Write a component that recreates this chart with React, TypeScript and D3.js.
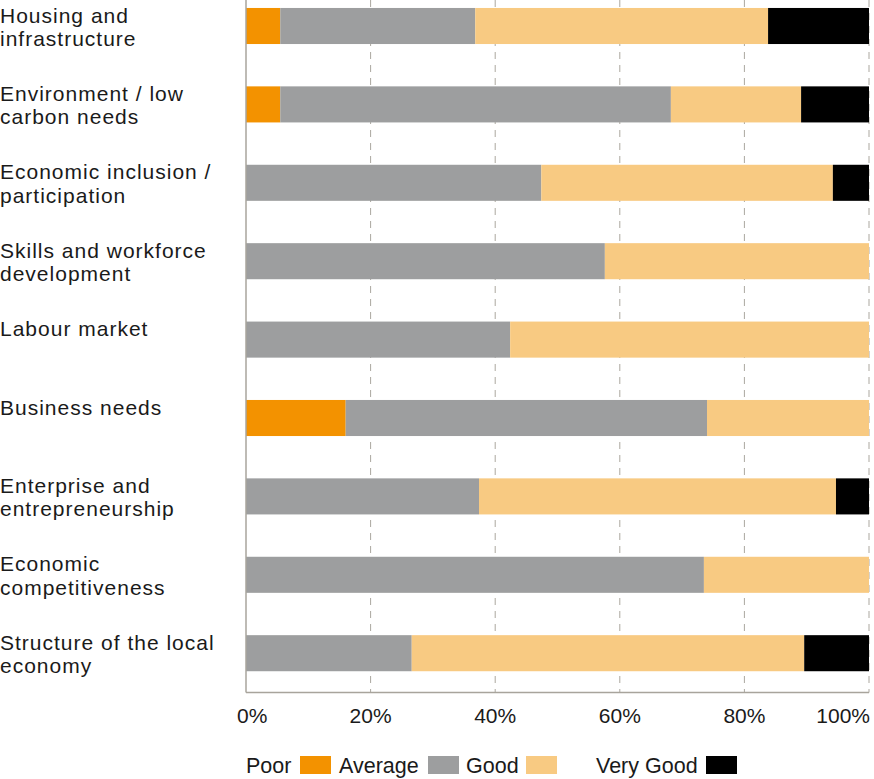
import React from "react";
import * as d3 from "d3";

const categories: string[][] = [
  ["Housing and", "infrastructure"],
  ["Environment / low", "carbon needs"],
  ["Economic inclusion /", "participation"],
  ["Skills and workforce", "development"],
  ["Labour market"],
  ["Business needs"],
  ["Enterprise and", "entrepreneurship"],
  ["Economic", "competitiveness"],
  ["Structure of the local", "economy"],
];

const poor = [5.5, 5.5, 0, 0, 0, 16.0, 0, 0, 0];
const average = [31.3, 62.7, 47.4, 57.6, 42.4, 58.0, 37.4, 73.5, 26.6];
const good = [47.0, 20.9, 46.8, 42.4, 57.6, 26.0, 57.3, 26.5, 63.0];
const veryGood = [16.2, 10.9, 5.8, 0, 0, 0, 5.3, 0, 10.4];

const seriesNames = ["Poor", "Average", "Good", "Very Good"];
const seriesColors = ["#F39200", "#9D9E9F", "#F8CA82", "#000000"];
const ticks = [0, 20, 40, 60, 80, 100];

export default function App() {
  const W = 874;
  const H = 779;
  const x0 = 246;
  const x1 = 869;
  const axisY = 692.5;
  const font = "'Liberation Sans', Arial, sans-serif";

  const x = d3.scaleLinear().domain([0, 100]).range([x0, x1]);
  const y = d3
    .scaleBand<number>()
    .domain(categories.map((_, i) => i))
    .range([-13.2, 692.4])
    .paddingInner(0.54)
    .paddingOuter(0.27);

  const rows = categories.map((_, i) => ({
    Poor: poor[i],
    Average: average[i],
    Good: good[i],
    "Very Good": veryGood[i],
  }));
  const stacked = d3.stack<any>().keys(seriesNames)(rows);

  const legendItems = [
    { label: "Poor", lx: 246, sx: 300 },
    { label: "Average", lx: 339, sx: 428 },
    { label: "Good", lx: 466, sx: 526 },
    { label: "Very Good", lx: 596, sx: 706 },
  ];

  return (
    <svg width={W} height={H} style={{ position: "absolute", left: 0, top: 0 }} fontFamily={font}>
      {ticks.slice(1).map((t) => (
        <line
          key={t}
          x1={x(t)}
          x2={x(t)}
          y1={0}
          y2={axisY}
          stroke="#ABA79F"
          strokeWidth={1}
          strokeDasharray="7,6"
        />
      ))}
      {stacked.map((s, si) =>
        s.map((d, i) => {
          const w = x(d[1]) - x(d[0]);
          if (w <= 0) return null;
          return (
            <rect
              key={si + "-" + i}
              x={x(d[0])}
              y={y(i)}
              width={w}
              height={y.bandwidth()}
              fill={seriesColors[si]}
            />
          );
        })
      )}
      <line x1={x0} x2={x0} y1={0} y2={axisY} stroke="#A8A49C" strokeWidth={1.5} />
      <line x1={x0} x2={x1} y1={axisY} y2={axisY} stroke="#A8A49C" strokeWidth={1.5} />
      {ticks.map((t, i) => (
        <text
          key={t}
          x={i === 0 ? 237 : i === ticks.length - 1 ? 870 : x(t)}
          y={723}
          fontSize={21}
          textAnchor={i === 0 ? "start" : i === ticks.length - 1 ? "end" : "middle"}
          fill="#1a1a1a"
        >
          {t + "%"}
        </text>
      ))}
      {categories.map((lines, i) => {
        const cy = (y(i) as number) + y.bandwidth() / 2;
        return (
          <g key={i}>
            {lines.map((ln, j) => (
              <text
                key={j}
                x={0}
                y={cy - 3.5 + j * 23.5}
                fontSize={21}
                letterSpacing={1}
                fill="#1a1a1a"
              >
                {ln}
              </text>
            ))}
          </g>
        );
      })}
      {legendItems.map((it, i) => (
        <g key={it.label}>
          <text x={it.lx} y={773} fontSize={21.5} fill="#1a1a1a">
            {it.label}
          </text>
          <rect x={it.sx} y={756} width={31} height={18} fill={seriesColors[i]} />
        </g>
      ))}
    </svg>
  );
}
